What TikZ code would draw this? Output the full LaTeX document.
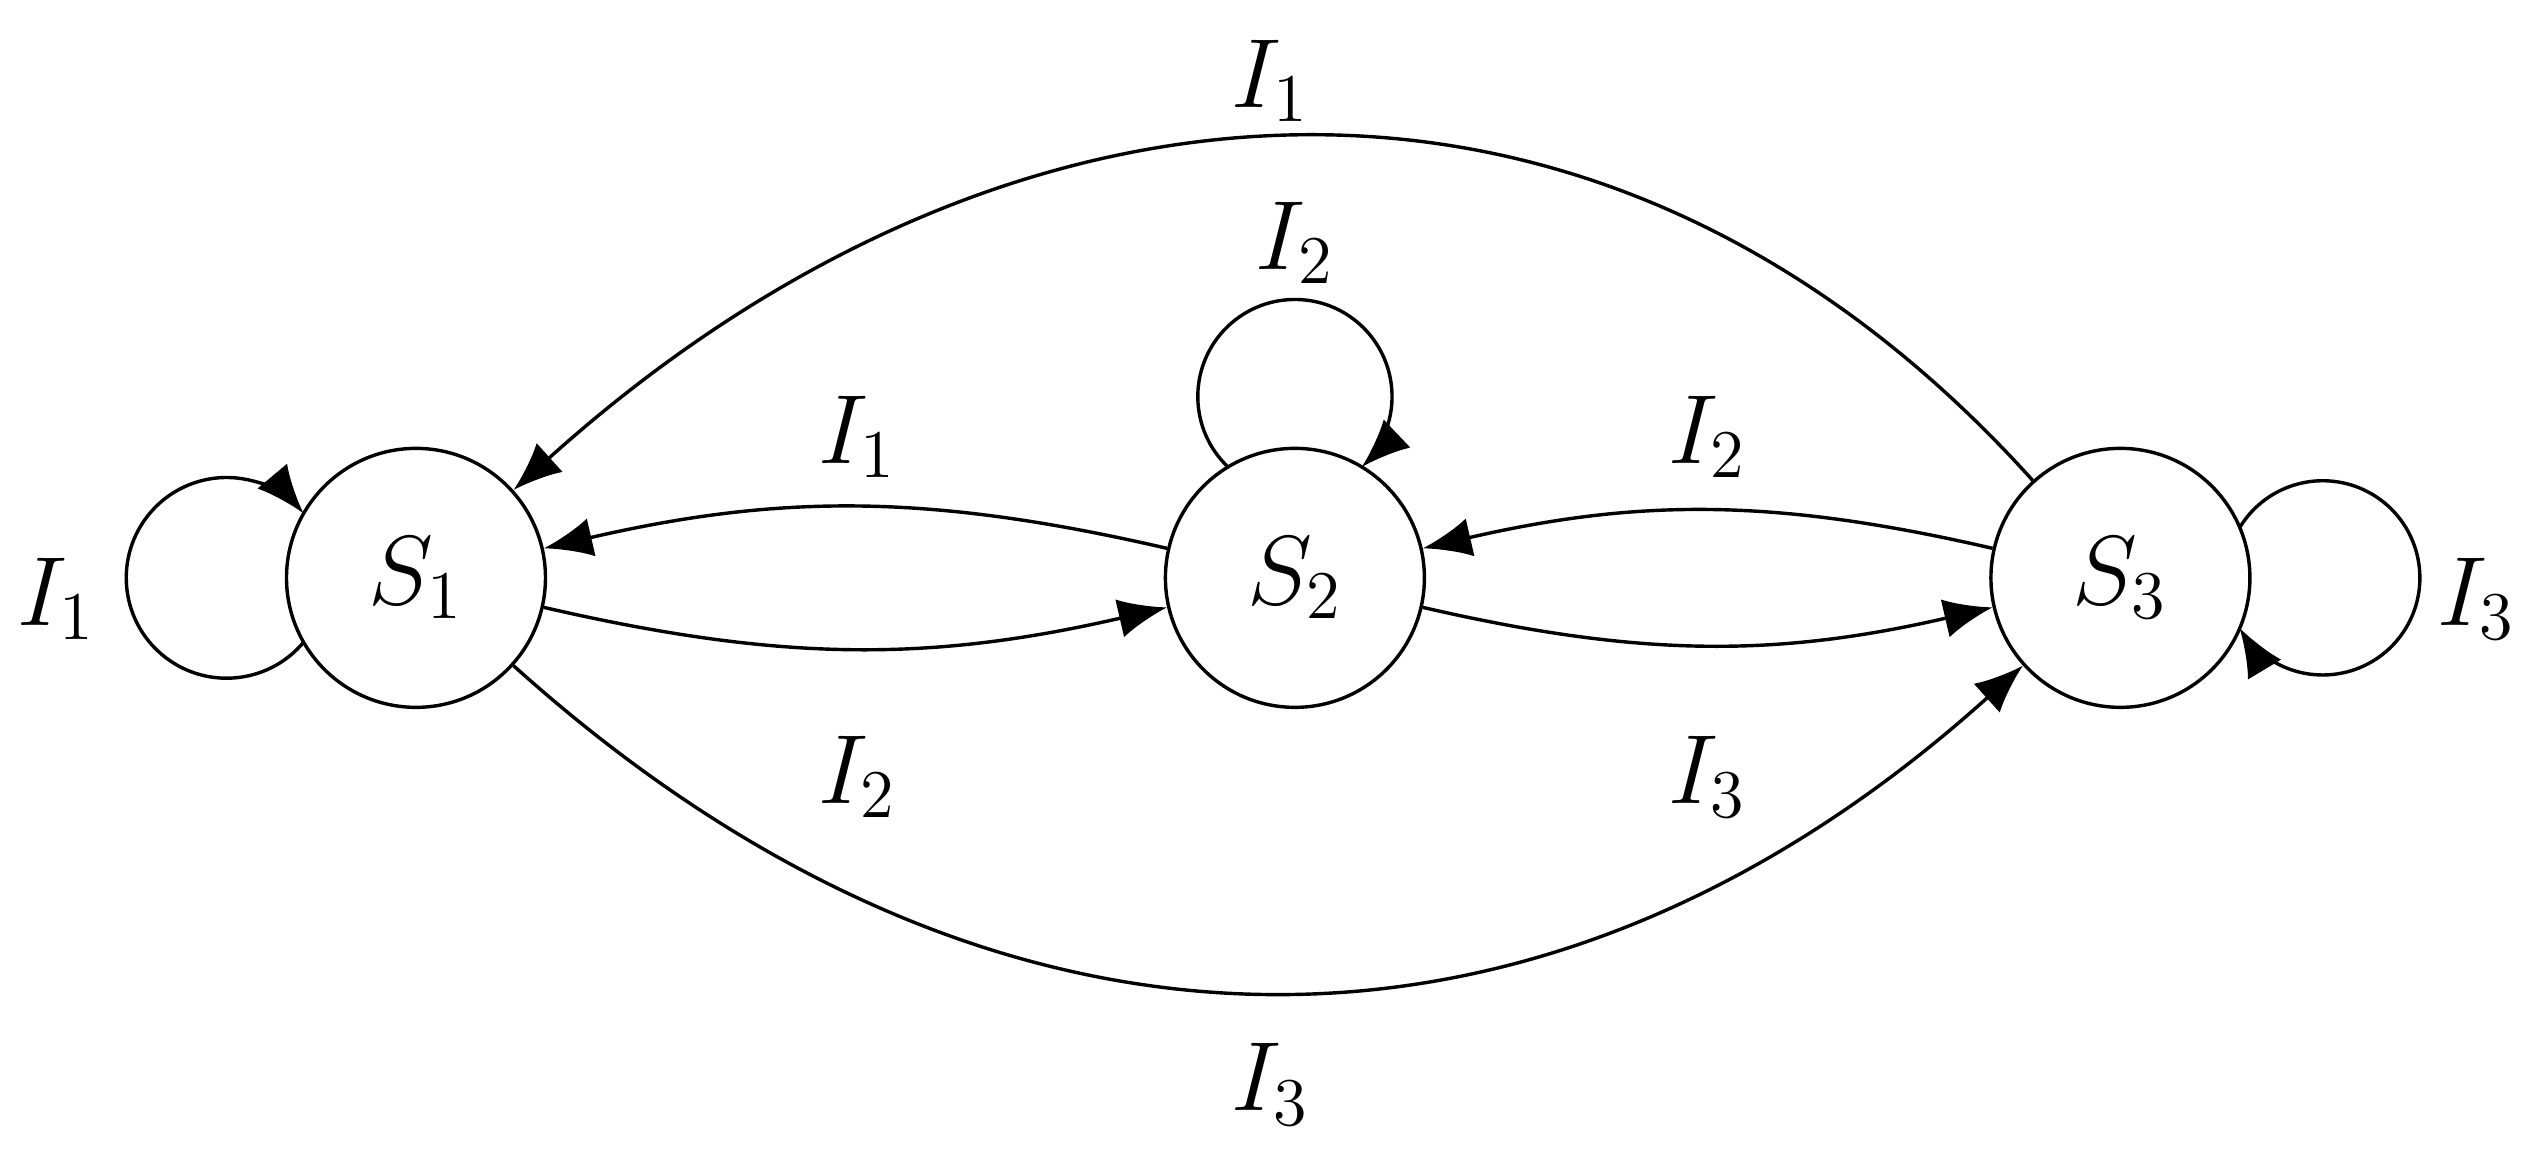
\documentclass[tikz,border=0pt]{standalone}
\usetikzlibrary{arrows.meta,calc}
\begin{document}
\begin{tikzpicture}[
  state/.style={circle,draw,line width=0.6pt,minimum size=1.6cm,inner sep=0pt,font=\LARGE},
  lbl/.style={font=\LARGE},
  arr/.style={-{Latex[length=3mm,width=2.4mm]},line width=0.6pt}]
\useasboundingbox (0,0) rectangle (15.68,7.15);
\node[state] (s1) at (2.57,3.58) {$S_1$};
\node[state] (s2) at (8.0,3.58) {$S_2$};
\node[state] (s3) at (13.1,3.58) {$S_3$};
\coordinate (c1) at ($(s1)+(-1.17,0)$);
\coordinate (c2) at ($(s2)+(0,1.12)$);
\coordinate (c3) at ($(s3)+(1.25,0)$);
\draw[arr] ($(c1)+(-40:0.62)$) arc[start angle=-40,end angle=-320,radius=0.62];
\draw[arr] ($(c2)+(226.5:0.6)$) arc[start angle=226.5,end angle=-46.5,radius=0.6];
\draw[arr] ($(c3)+(149:0.6)$) arc[start angle=149,end angle=-149,radius=0.6];
\draw[arr] (s2) to[bend right=13] (s1);
\draw[arr] (s1) to[bend right=13] (s2);
\draw[arr] (s3) to[bend right=13] (s2);
\draw[arr] (s2) to[bend right=13] (s3);
\draw[arr] (s3) to[out=132,in=42,looseness=1.1] (s1);
\draw[arr] (s1) to[out=-42,in=-138,looseness=1.1] (s3);
\node[lbl] (l1) at (0.35,3.45) {$I_1$};
\node[lbl] (l2) at (8.0,5.65) {$I_2$};
\node[lbl] (l3) at (15.3,3.45) {$I_3$};
\node[lbl] (l4) at (5.3,4.45) {$I_1$};
\node[lbl] (l5) at (5.3,2.35) {$I_2$};
\node[lbl] (l6) at (10.55,4.45) {$I_2$};
\node[lbl] (l7) at (10.55,2.35) {$I_3$};
\node[lbl] (l8) at (7.85,6.65) {$I_1$};
\node[lbl] (l9) at (7.85,0.45) {$I_3$};
\end{tikzpicture}
\end{document}
